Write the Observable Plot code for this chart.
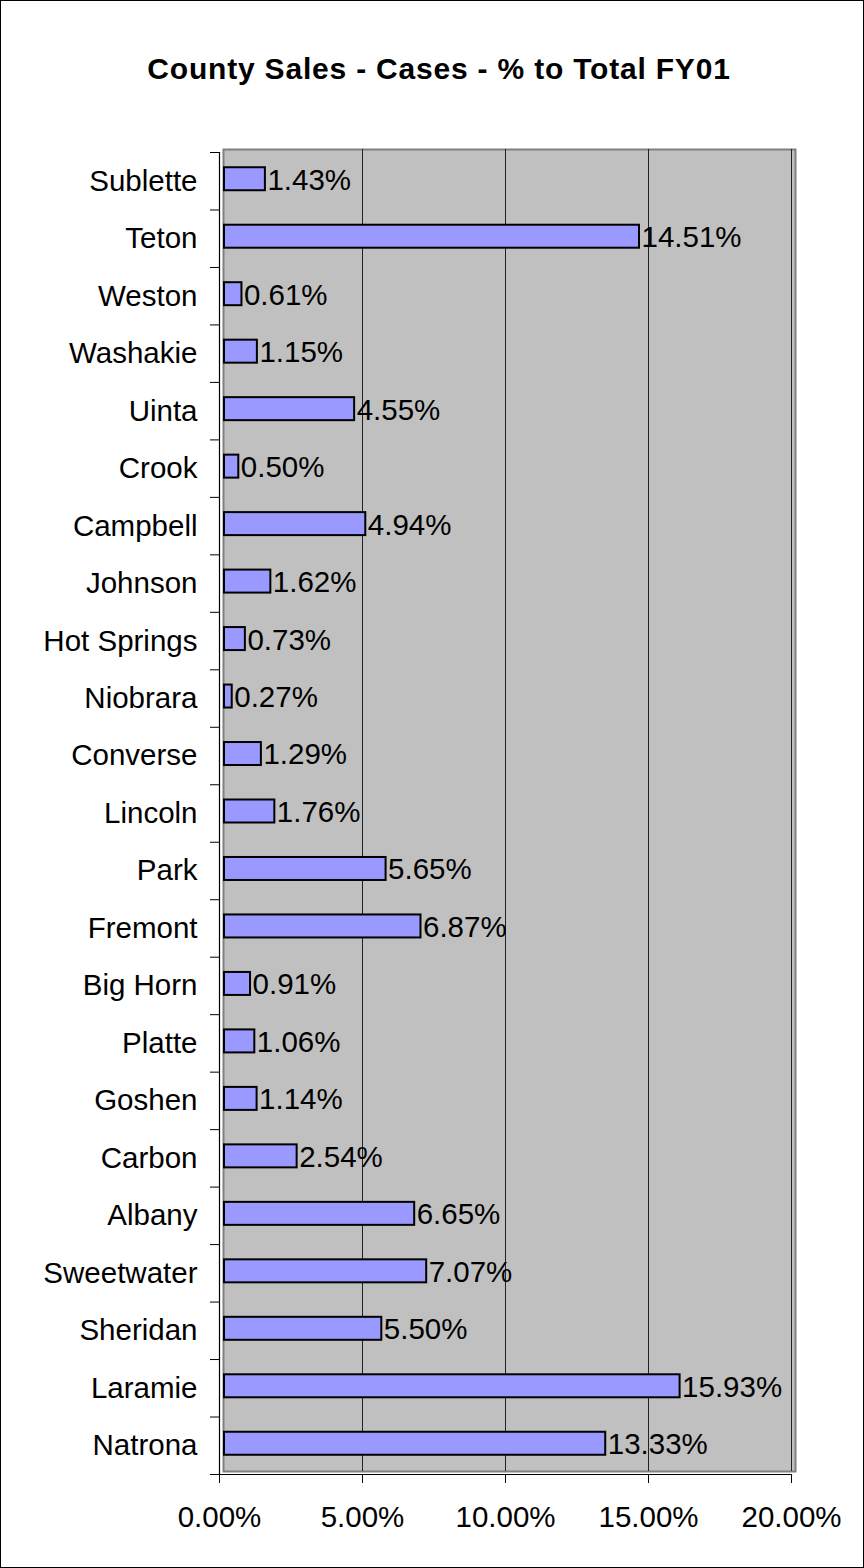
<!DOCTYPE html>
<html>
<head>
<meta charset="utf-8">
<script src="https://cdn.jsdelivr.net/npm/d3@7"></script>
<script src="https://cdn.jsdelivr.net/npm/@observablehq/plot@0.6"></script>
<style>
  html, body { margin: 0; padding: 0; background: #fff; }
  #wrap {
    width: 864px; height: 1568px; box-sizing: border-box;
    border: 1px solid #000; background: #fff; overflow: hidden;
    font-family: "Liberation Sans", Arial, sans-serif;
  }
  #title {
    height: 86px; box-sizing: border-box; padding-top: 50px; padding-left: 14px;
    line-height: 36px; font-size: 30px; font-weight: bold; letter-spacing: 0.8px;
    text-align: center; color: #000; white-space: nowrap;
  }
  #chart svg { display: block; overflow: visible; }
</style>
</head>
<body>
<div id="wrap">
  <div id="title">County Sales - Cases - % to Total FY01</div>
  <div id="chart"></div>
</div>
<script>
const counties = ["Sublette","Teton","Weston","Washakie","Uinta","Crook","Campbell","Johnson","Hot Springs","Niobrara","Converse","Lincoln","Park","Fremont","Big Horn","Platte","Goshen","Carbon","Albany","Sweetwater","Sheridan","Laramie","Natrona"];
const shares = [1.43,14.51,0.61,1.15,4.55,0.50,4.94,1.62,0.73,0.27,1.29,1.76,5.65,6.87,0.91,1.06,1.14,2.54,6.65,7.07,5.50,15.93,13.33];
const xTicks = [0, 5, 10, 15, 20];
const gridTicks = [5, 10, 15, 20];

const data = counties.map((c, i) => ({county: c, share: shares[i]}));

const W = 862, H = 1480, mt = 65, mb = 93, ml = 218, mr = 72;
const step = (H - mt - mb) / counties.length;
const fmt = d => d.toFixed(2) + "%";

const chart = Plot.plot({
  width: W, height: H,
  marginTop: mt, marginBottom: mb, marginLeft: ml, marginRight: mr,
  style: {fontSize: "29.5px", fontFamily: "'Liberation Sans', Arial, sans-serif", color: "#000", background: "transparent", overflow: "visible"},
  x: {domain: [0, 20], ticks: xTicks},
  y: {domain: counties, paddingInner: 0.6, paddingOuter: 0.3, round: false},
  marks: [
    Plot.frame({fill: "#C0C0C0", stroke: "#808080", strokeWidth: 2, dx: 4, dy: -3}),
    Plot.ruleX(gridTicks, {stroke: "#222", strokeWidth: 1, dy: -3}),
    Plot.barX(data, {x: "share", y: "county", fill: "#9999FF", stroke: "#000", strokeWidth: 2, dx: 5, dy: -2}),
    Plot.text(data, {x: "share", y: "county", text: d => fmt(d.share), textAnchor: "start", dx: 7, dy: -1, fill: "#000"}),
    Plot.frame({anchor: "left", stroke: "#000", strokeWidth: 1.2}),
    Plot.frame({anchor: "bottom", stroke: "#000", strokeWidth: 1.2}),
    Plot.axisX(xTicks, {tickSize: 9, tickPadding: 23, tickFormat: fmt, label: null, stroke: "#000"}),
    Plot.axisY({tickSize: 0, tickPadding: 22, label: null}),
    Plot.axisY(counties, {tickSize: 9, text: null, dy: step / 2, label: null, stroke: "#000"}),
    Plot.axisY([counties[0]], {tickSize: 9, text: null, dy: -step / 2, label: null, stroke: "#000"})
  ]
});
document.getElementById("chart").appendChild(chart);
</script>
</body>
</html>
